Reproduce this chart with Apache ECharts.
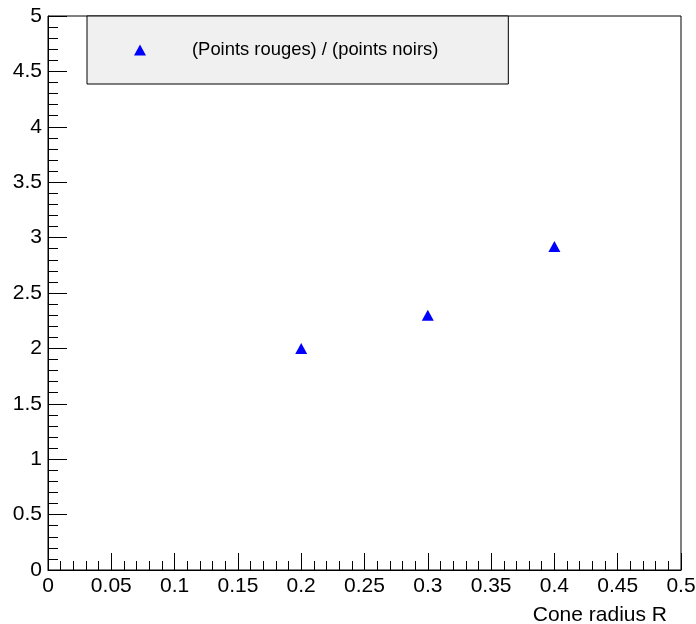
<!DOCTYPE html>
<html>
<head>
<meta charset="utf-8">
<script src="https://cdn.jsdelivr.net/npm/echarts@6/dist/echarts.min.js"></script>
<style>html,body{margin:0;padding:0;background:#fff;}#chart{width:696px;height:624px;}</style>
</head>
<body>
<div id="chart"></div>
<script>
var seriesName = '(Points rouges) / (points noirs)';
var xValues = [0.2, 0.3, 0.4];
var yValues = [2.0, 2.3, 2.92];
var xAxisTitle = 'Cone radius R';

var chart = echarts.init(document.getElementById('chart'), null, {renderer: 'canvas'});
var font = 'Liberation Sans, Arial, Helvetica, sans-serif';
var data = xValues.map(function (x, i) { return [x, yValues[i]]; });

chart.setOption({
  animation: false,
  backgroundColor: '#fff',
  grid: {left: 48, top: 16, right: 15, bottom: 54, containLabel: false, outerBoundsMode: 'none', show: true, borderColor: '#000', borderWidth: 1, backgroundColor: 'transparent'},
  legend: {
    left: 87, top: 16,
    padding: [25, 70, 25, 47],
    backgroundColor: '#f0f0f0',
    borderColor: '#000', borderWidth: 1, borderRadius: 0,
    itemWidth: 12, itemHeight: 11,
    textStyle: {fontFamily: font, fontSize: 18.4, color: '#000', padding: [0, 0, 0, 41]},
    data: [{name: seriesName, icon: 'triangle'}]
  },
  xAxis: {
    type: 'value', min: 0, max: 0.5, interval: 0.05,
    name: xAxisTitle, nameLocation: 'end', nameGap: -14, nameMoveOverlap: false,
    nameTextStyle: {fontFamily: font, fontSize: 21, color: '#000', align: 'right', verticalAlign: 'top', lineHeight: 21, padding: [35, 0, 0, 0]},
    axisLine: {show: true, onZero: false, lineStyle: {color: '#000', width: 1}},
    axisTick: {show: true, inside: true, length: 17, lineStyle: {color: '#000', width: 1}},
    minorTick: {show: true, splitNumber: 5, length: 9, lineStyle: {color: '#000', width: 1}},
    axisLabel: {fontFamily: font, fontSize: 21, color: '#000', margin: 6},
    splitLine: {show: false}
  },
  yAxis: {
    type: 'value', min: 0, max: 5, interval: 0.5,
    axisLine: {show: true, onZero: false, lineStyle: {color: '#000', width: 1}},
    axisTick: {show: true, inside: true, length: 19, lineStyle: {color: '#000', width: 1}},
    minorTick: {show: true, splitNumber: 5, length: 10, lineStyle: {color: '#000', width: 1}},
    axisLabel: {fontFamily: font, fontSize: 21, color: '#000', margin: 6},
    splitLine: {show: false}
  },
  series: [{
    name: seriesName,
    type: 'scatter',
    symbol: 'triangle',
    symbolSize: [12, 11],
    itemStyle: {color: '#0000ff', opacity: 1},
    data: data
  }]
});
</script>
</body>
</html>
